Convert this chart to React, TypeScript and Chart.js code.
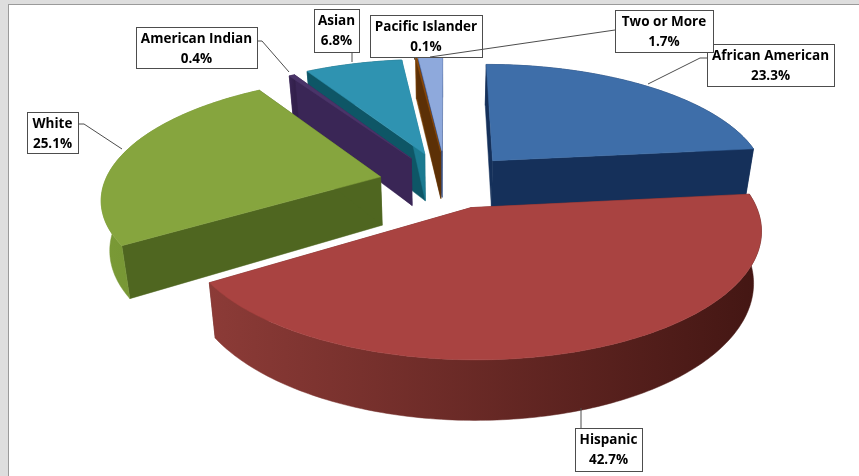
import { useEffect, useRef } from "react";
import { Chart, registerables } from "chart.js";

Chart.register(...registerables);

const categories = ["African American", "Hispanic", "White", "American Indian", "Asian", "Pacific Islander", "Two or More"];
const shares = [23.3, 42.7, 25.1, 0.4, 6.8, 0.1, 1.7];
const topColors = ["#3e6ea9", "#a94341", "#86a53e", "#4a3469", "#2f93b1", "#8a4a0c", "#8ea9dc"];
const startFaceColors = ["#15305a", "#6e2a27", "#4f6620", "#3a2656", "#0e5666", "#7a4208", "#3c5a96"];
const endFaceColors = ["#15305a", "#6e2a27", "#4f6620", "#3a2656", "#1b7a90", "#5c3006", "#2f4a80"];
const rimFrom = ["#15305a", "#8c3b37", "#7a9a36", "#3a2656", "#0e5666", "#7a4208", "#3c5a96"];
const rimTo = ["#15305a", "#431613", "#6c8a2e", "#33204c", "#0e5666", "#5c3006", "#2f4a80"];

// Explosion of each slice in the plane of the pie (unit = pie radius).
const explodeX = [0.174, 0.088, -0.239, -0.13, -0.08, -0.02, -0.015];
const explodeY = [-0.1, 0.295, 0.042, -0.12, -0.16, -0.18, -0.19];

// Paint order, back of the pie to front.
const paintOrder = [6, 5, 4, 3, 2, 0, 1];

// Callout boxes: left, top, right, bottom, then the leader polyline.
const calloutBoxes = [
  [707, 44, 834, 86],
  [575, 428, 642, 471],
  [27, 112, 78, 153],
  [136, 27, 257, 68],
  [314, 9, 359, 52],
  [370, 15, 482, 57],
  [615, 10, 713, 52],
];
const calloutLeaders = [
  [[707, 58], [700, 58], [648, 84]],
  [[581, 428], [581, 408]],
  [[78, 124], [84, 124], [122, 149]],
  [[257, 41], [262, 41], [289, 72]],
  [[352, 52], [352, 62]],
  [[414, 57], [415, 60]],
  [[615, 30], [430, 57]],
];

const CX = 446;
const CY = 172;
const RX = 272;
const RY = 115;
const PERSPECTIVE = 0.16;
const DEPTH = 48;
const BASE_SHRINK = 0.975;
const LABEL_FONT = 'bold 13.5px "Open Sans"';

type Pt = [number, number];

function project(X: number, Y: number, base: boolean): Pt {
  const s = 1 / (1 - PERSPECTIVE * Y);
  const x = CX + RX * X * s;
  const y = CY + RY * Y * s;
  return base ? [CX + (x - CX) * BASE_SHRINK, y + DEPTH * s] : [x, y];
}

function fillPath(ctx: CanvasRenderingContext2D, pts: Pt[], fill: string | CanvasGradient) {
  ctx.beginPath();
  pts.forEach((p, i) => (i ? ctx.lineTo(p[0], p[1]) : ctx.moveTo(p[0], p[1])));
  ctx.closePath();
  ctx.fillStyle = fill;
  ctx.fill();
  ctx.strokeStyle = fill;
  ctx.lineWidth = 0.5;
  ctx.stroke();
}

function drawSlice(ctx: CanvasRenderingContext2D, arc: any, i: number) {
  const sx = explodeX[i];
  const sy = explodeY[i];
  const steps = Math.max(2, Math.ceil((arc.endAngle - arc.startAngle) * 60));
  const topRim: Pt[] = [];
  const baseRim: Pt[] = [];
  for (let k = 0; k <= steps; k++) {
    const a = arc.startAngle + ((arc.endAngle - arc.startAngle) * k) / steps;
    const X = sx + Math.cos(a);
    const Y = sy + Math.sin(a);
    topRim.push(project(X, Y, false));
    baseRim.push(project(X, Y, true));
  }
  const apexTop = project(sx, sy, false);
  const apexBase = project(sx, sy, true);
  const xs = topRim.map((p) => p[0]);
  const rim = ctx.createLinearGradient(Math.min(...xs), 0, Math.max(...xs), 0);
  rim.addColorStop(0, rimFrom[i]);
  rim.addColorStop(1, rimTo[i]);

  fillPath(ctx, [apexTop, topRim[0], baseRim[0], apexBase], startFaceColors[i]);
  fillPath(ctx, [apexTop, topRim[steps], baseRim[steps], apexBase], endFaceColors[i]);
  fillPath(ctx, [...topRim, ...baseRim.slice().reverse()], rim);
  fillPath(ctx, [apexTop, ...topRim], arc.options.backgroundColor);
}

const solidPie = {
  id: "solidPie",
  beforeDatasetsDraw(chart: any) {
    const { ctx } = chart;
    ctx.save();
    ctx.fillStyle = "#dedede";
    ctx.fillRect(0, 0, chart.width, chart.height);
    ctx.fillStyle = "#ffffff";
    ctx.fillRect(9, 5, chart.width - 9, chart.height - 5);
    ctx.strokeStyle = "#9a9a9a";
    ctx.lineWidth = 1;
    ctx.strokeRect(8.5, 4.5, chart.width, chart.height);
    const arcs = chart.getDatasetMeta(0).data;
    paintOrder.forEach((i) => drawSlice(ctx, arcs[i], i));
    ctx.restore();
    return false;
  },
  afterDraw(chart: any) {
    const { ctx } = chart;
    ctx.save();
    categories.forEach((name, i) => {
      const [l, t, r, b] = calloutBoxes[i];
      ctx.fillStyle = "#ffffff";
      ctx.fillRect(l, t, r - l, b - t);
      ctx.strokeStyle = "#4d4d4d";
      ctx.lineWidth = 1;
      ctx.strokeRect(l + 0.5, t + 0.5, r - l, b - t);
      ctx.fillStyle = "#000000";
      ctx.font = LABEL_FONT;
      ctx.textAlign = "center";
      ctx.textBaseline = "middle";
      const mid = (l + r) / 2;
      ctx.fillText(name, mid, t + 12);
      ctx.fillText(`${shares[i]}%`, mid, t + 32);
    });
    calloutLeaders.forEach((line) => {
      ctx.beginPath();
      line.forEach((p, k) => (k ? ctx.lineTo(p[0], p[1]) : ctx.moveTo(p[0], p[1])));
      ctx.strokeStyle = "#4d4d4d";
      ctx.lineWidth = 1;
      ctx.stroke();
    });
    ctx.restore();
  },
};

export default function App() {
  const ref = useRef<HTMLCanvasElement>(null);
  useEffect(() => {
    document.body.style.margin = "0";
    const chart = new Chart(ref.current as HTMLCanvasElement, {
      type: "pie",
      data: {
        labels: categories,
        datasets: [{ data: shares, backgroundColor: topColors, borderWidth: 0 }],
      },
      options: {
        responsive: false,
        animation: false,
        plugins: { legend: { display: false }, tooltip: { enabled: false } },
      },
      plugins: [solidPie],
    } as any);
    return () => chart.destroy();
  }, []);
  return <canvas ref={ref} width={859} height={476} style={{ display: "block" }} />;
}
